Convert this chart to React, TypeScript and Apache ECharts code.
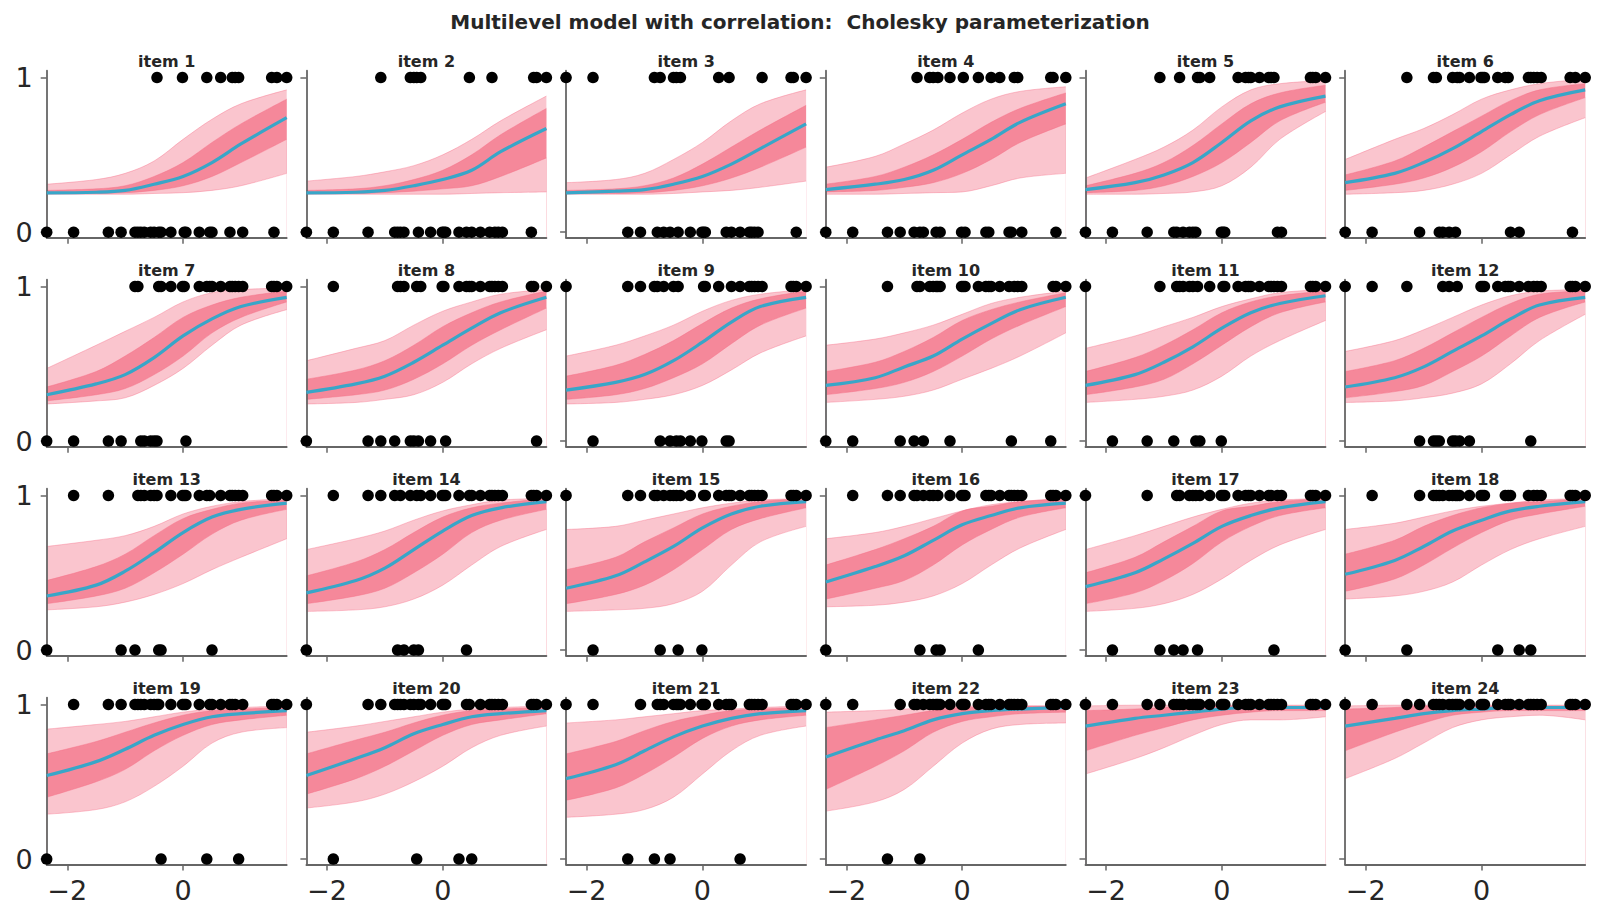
import React, { useEffect, useRef } from "react";
import * as echarts from "echarts";

const X_MIN = -2.355;
const X_MAX = 1.79;
const Y_MIN = -0.036;
const Y_MAX = 1.044;

// ability of each person (x of every dot, same in all panels)
const persons = [
  -2.355, -1.89, -1.29, -1.07, -0.83, -0.78, -0.73, -0.67, -0.56, -0.5, -0.45,
  -0.42, -0.38, -0.21, -0.01, 0.02, 0.05, 0.28, 0.41, 0.46, 0.5, 0.65, 0.81,
  0.85, 0.9, 0.96, 1.03, 1.53, 1.57, 1.62, 1.79,
];

// answers of each person per item, 1 = correct
const responses = [
  "0000000000100010001001011101011",
  "0001000011101000000100010000111",
  "1100101001101000010100000011101",
  "0000010011010101010011001101101",
  "0001001000011100011111111001111",
  "0010110001011111111100111111011",
  "0000110000011111011111111111111",
  "0100011100101011011111111111101",
  "1011110101010001110011111111111",
  "0010011011111011111111101110111",
  "1001011111010101111111111111111",
  "1110000110010011111111101111111",
  "0110011111100111111101111111111",
  "0111101010101111110111111111111",
  "1011110111101101111111111111111",
  "0111110111010111101111111111111",
  "1010011011101111111111110111111",
  "0101111111111111101110101111111",
  "0111111111110111110111111011111",
  "1011111111011111101101111111111",
  "1101011101111111111110111111111",
  "1101110111111111111111111111111",
  "1111111111111111111111111111111",
  "1111111111111111111111111111111",
];

const xGrid = [-2.355, -1.5, -1, -0.5, 0, 0.5, 1, 1.79];

// posterior mean curve per item
const meanCurve = [
  [0.254, 0.258, 0.27, 0.31, 0.36, 0.45, 0.57, 0.74],
  [0.254, 0.258, 0.27, 0.3, 0.34, 0.4, 0.52, 0.67],
  [0.254, 0.265, 0.275, 0.31, 0.36, 0.44, 0.54, 0.7],
  [0.275, 0.31, 0.34, 0.4, 0.5, 0.6, 0.71, 0.83],
  [0.275, 0.32, 0.37, 0.45, 0.58, 0.72, 0.81, 0.88],
  [0.32, 0.38, 0.45, 0.54, 0.65, 0.76, 0.85, 0.92],
  [0.3, 0.37, 0.43, 0.54, 0.68, 0.79, 0.87, 0.93],
  [0.315, 0.37, 0.42, 0.51, 0.62, 0.73, 0.83, 0.93],
  [0.33, 0.38, 0.43, 0.52, 0.64, 0.77, 0.87, 0.93],
  [0.36, 0.41, 0.48, 0.55, 0.66, 0.76, 0.85, 0.93],
  [0.36, 0.43, 0.51, 0.61, 0.73, 0.83, 0.89, 0.94],
  [0.35, 0.41, 0.48, 0.58, 0.68, 0.79, 0.88, 0.93],
  [0.35, 0.42, 0.51, 0.63, 0.76, 0.86, 0.91, 0.95],
  [0.37, 0.45, 0.53, 0.65, 0.77, 0.87, 0.92, 0.96],
  [0.4, 0.48, 0.57, 0.67, 0.79, 0.88, 0.93, 0.96],
  [0.44, 0.54, 0.61, 0.71, 0.81, 0.87, 0.92, 0.95],
  [0.41, 0.5, 0.59, 0.69, 0.8, 0.87, 0.92, 0.96],
  [0.49, 0.58, 0.67, 0.77, 0.84, 0.9, 0.93, 0.96],
  [0.54, 0.63, 0.71, 0.8, 0.87, 0.92, 0.94, 0.96],
  [0.54, 0.65, 0.72, 0.81, 0.87, 0.92, 0.94, 0.96],
  [0.52, 0.61, 0.7, 0.79, 0.86, 0.91, 0.94, 0.96],
  [0.66, 0.77, 0.83, 0.9, 0.94, 0.96, 0.97, 0.98],
  [0.86, 0.91, 0.93, 0.95, 0.97, 0.98, 0.98, 0.98],
  [0.86, 0.91, 0.94, 0.96, 0.97, 0.98, 0.98, 0.98],
];

// spread of the posterior draws: outer edges
const outerHi = [
  [0.31, 0.34, 0.38, 0.46, 0.6, 0.73, 0.83, 0.92],
  [0.33, 0.36, 0.39, 0.43, 0.5, 0.6, 0.72, 0.88],
  [0.32, 0.34, 0.38, 0.47, 0.58, 0.72, 0.83, 0.92],
  [0.42, 0.49, 0.57, 0.66, 0.77, 0.86, 0.91, 0.94],
  [0.35, 0.47, 0.55, 0.66, 0.81, 0.92, 0.96, 0.98],
  [0.47, 0.6, 0.67, 0.76, 0.86, 0.92, 0.96, 0.99],
  [0.47, 0.62, 0.71, 0.8, 0.9, 0.96, 0.98, 0.99],
  [0.52, 0.6, 0.65, 0.75, 0.84, 0.9, 0.95, 0.98],
  [0.55, 0.62, 0.68, 0.75, 0.84, 0.91, 0.95, 0.98],
  [0.62, 0.66, 0.7, 0.75, 0.82, 0.89, 0.93, 0.97],
  [0.6, 0.68, 0.74, 0.8, 0.87, 0.92, 0.96, 0.98],
  [0.58, 0.65, 0.72, 0.8, 0.88, 0.94, 0.97, 0.98],
  [0.67, 0.71, 0.74, 0.8, 0.88, 0.93, 0.96, 0.98],
  [0.65, 0.72, 0.77, 0.84, 0.9, 0.94, 0.97, 0.98],
  [0.78, 0.8, 0.84, 0.88, 0.92, 0.95, 0.97, 0.98],
  [0.72, 0.76, 0.8, 0.85, 0.9, 0.94, 0.96, 0.98],
  [0.65, 0.74, 0.8, 0.86, 0.91, 0.95, 0.97, 0.98],
  [0.78, 0.82, 0.86, 0.9, 0.93, 0.95, 0.97, 0.98],
  [0.84, 0.87, 0.89, 0.92, 0.95, 0.97, 0.98, 0.99],
  [0.82, 0.86, 0.89, 0.92, 0.95, 0.97, 0.98, 0.99],
  [0.88, 0.9, 0.92, 0.94, 0.96, 0.97, 0.98, 0.99],
  [0.95, 0.96, 0.97, 0.98, 0.99, 0.99, 0.99, 0.99],
  [0.99, 0.995, 0.995, 0.995, 0.995, 0.995, 0.995, 0.995],
  [0.99, 0.995, 0.995, 0.995, 0.995, 0.995, 0.995, 0.995],
];

const outerLo = [
  [0.245, 0.245, 0.245, 0.25, 0.255, 0.27, 0.3, 0.38],
  [0.245, 0.245, 0.245, 0.245, 0.245, 0.25, 0.255, 0.26],
  [0.245, 0.245, 0.245, 0.25, 0.26, 0.27, 0.29, 0.33],
  [0.245, 0.245, 0.25, 0.255, 0.26, 0.3, 0.35, 0.38],
  [0.245, 0.245, 0.25, 0.26, 0.3, 0.42, 0.6, 0.78],
  [0.245, 0.255, 0.27, 0.31, 0.38, 0.5, 0.62, 0.74],
  [0.24, 0.26, 0.28, 0.36, 0.47, 0.62, 0.75, 0.85],
  [0.24, 0.25, 0.27, 0.3, 0.38, 0.5, 0.6, 0.72],
  [0.24, 0.25, 0.27, 0.3, 0.36, 0.46, 0.57, 0.68],
  [0.25, 0.27, 0.29, 0.33, 0.4, 0.47, 0.55, 0.7],
  [0.25, 0.27, 0.29, 0.33, 0.42, 0.55, 0.65, 0.78],
  [0.25, 0.26, 0.28, 0.31, 0.37, 0.5, 0.65, 0.82],
  [0.26, 0.28, 0.31, 0.36, 0.43, 0.52, 0.6, 0.72],
  [0.25, 0.26, 0.28, 0.33, 0.42, 0.55, 0.67, 0.78],
  [0.25, 0.26, 0.27, 0.3, 0.38, 0.55, 0.7, 0.8],
  [0.28, 0.29, 0.31, 0.35, 0.43, 0.55, 0.66, 0.78],
  [0.25, 0.27, 0.3, 0.36, 0.46, 0.58, 0.68, 0.78],
  [0.33, 0.35, 0.38, 0.44, 0.55, 0.65, 0.72, 0.8],
  [0.29, 0.32, 0.37, 0.47, 0.6, 0.75, 0.82, 0.85],
  [0.33, 0.37, 0.42, 0.5, 0.6, 0.72, 0.8, 0.86],
  [0.27, 0.29, 0.32, 0.4, 0.55, 0.7, 0.8, 0.86],
  [0.31, 0.37, 0.45, 0.6, 0.75, 0.84, 0.87, 0.88],
  [0.55, 0.65, 0.72, 0.8, 0.87, 0.9, 0.9, 0.92],
  [0.52, 0.65, 0.75, 0.85, 0.9, 0.92, 0.93, 0.9],
];

// where most of the draws lie
const innerHi = [
  [0.27, 0.28, 0.3, 0.36, 0.45, 0.58, 0.7, 0.86],
  [0.27, 0.28, 0.3, 0.34, 0.4, 0.5, 0.63, 0.8],
  [0.27, 0.28, 0.3, 0.35, 0.44, 0.55, 0.66, 0.82],
  [0.31, 0.36, 0.42, 0.5, 0.6, 0.71, 0.8, 0.9],
  [0.3, 0.38, 0.45, 0.56, 0.7, 0.83, 0.9, 0.95],
  [0.37, 0.46, 0.55, 0.65, 0.75, 0.85, 0.92, 0.96],
  [0.35, 0.45, 0.55, 0.67, 0.8, 0.88, 0.93, 0.97],
  [0.4, 0.46, 0.52, 0.62, 0.74, 0.83, 0.9, 0.97],
  [0.42, 0.49, 0.56, 0.65, 0.76, 0.86, 0.92, 0.97],
  [0.45, 0.51, 0.58, 0.67, 0.78, 0.85, 0.9, 0.96],
  [0.45, 0.54, 0.62, 0.72, 0.83, 0.9, 0.94, 0.97],
  [0.45, 0.52, 0.6, 0.7, 0.8, 0.89, 0.95, 0.97],
  [0.45, 0.54, 0.62, 0.74, 0.85, 0.91, 0.95, 0.97],
  [0.48, 0.57, 0.65, 0.76, 0.86, 0.92, 0.95, 0.98],
  [0.52, 0.6, 0.7, 0.79, 0.88, 0.93, 0.96, 0.98],
  [0.55, 0.65, 0.72, 0.8, 0.9, 0.93, 0.96, 0.98],
  [0.5, 0.6, 0.7, 0.8, 0.9, 0.93, 0.96, 0.98],
  [0.62, 0.71, 0.8, 0.87, 0.92, 0.95, 0.96, 0.98],
  [0.68, 0.76, 0.82, 0.88, 0.93, 0.96, 0.97, 0.98],
  [0.68, 0.77, 0.82, 0.88, 0.93, 0.96, 0.97, 0.98],
  [0.68, 0.76, 0.83, 0.89, 0.93, 0.96, 0.97, 0.98],
  [0.85, 0.9, 0.93, 0.96, 0.98, 0.98, 0.99, 0.99],
  [0.96, 0.97, 0.98, 0.99, 0.99, 0.99, 0.99, 0.99],
  [0.97, 0.98, 0.99, 0.99, 0.99, 0.99, 0.99, 0.99],
];

const innerLo = [
  [0.25, 0.25, 0.255, 0.27, 0.3, 0.36, 0.45, 0.6],
  [0.25, 0.25, 0.255, 0.265, 0.28, 0.3, 0.36, 0.48],
  [0.25, 0.25, 0.255, 0.27, 0.3, 0.35, 0.42, 0.55],
  [0.26, 0.27, 0.29, 0.32, 0.38, 0.47, 0.58, 0.7],
  [0.255, 0.27, 0.3, 0.36, 0.45, 0.58, 0.72, 0.84],
  [0.27, 0.31, 0.35, 0.42, 0.52, 0.65, 0.76, 0.87],
  [0.26, 0.3, 0.34, 0.43, 0.55, 0.7, 0.8, 0.9],
  [0.27, 0.3, 0.33, 0.4, 0.5, 0.62, 0.72, 0.86],
  [0.27, 0.3, 0.34, 0.41, 0.5, 0.63, 0.75, 0.86],
  [0.3, 0.34, 0.38, 0.45, 0.55, 0.66, 0.75, 0.87],
  [0.3, 0.35, 0.4, 0.5, 0.62, 0.74, 0.83, 0.9],
  [0.28, 0.32, 0.36, 0.45, 0.55, 0.68, 0.8, 0.9],
  [0.3, 0.35, 0.4, 0.5, 0.62, 0.75, 0.84, 0.91],
  [0.3, 0.35, 0.4, 0.5, 0.62, 0.76, 0.84, 0.91],
  [0.3, 0.36, 0.42, 0.52, 0.65, 0.78, 0.85, 0.92],
  [0.33, 0.4, 0.45, 0.55, 0.68, 0.78, 0.86, 0.92],
  [0.3, 0.37, 0.45, 0.56, 0.7, 0.8, 0.87, 0.92],
  [0.38, 0.46, 0.55, 0.66, 0.76, 0.84, 0.88, 0.93],
  [0.4, 0.5, 0.58, 0.7, 0.8, 0.87, 0.9, 0.93],
  [0.42, 0.52, 0.6, 0.7, 0.8, 0.87, 0.9, 0.94],
  [0.38, 0.46, 0.55, 0.66, 0.78, 0.86, 0.9, 0.93],
  [0.45, 0.6, 0.7, 0.82, 0.89, 0.92, 0.94, 0.95],
  [0.7, 0.8, 0.85, 0.9, 0.93, 0.95, 0.96, 0.96],
  [0.7, 0.82, 0.88, 0.93, 0.95, 0.96, 0.96, 0.96],
];

const itemNames = responses.map((_, i) => `item ${i + 1}`);

const COLS = 6;
const COL_LEFT = 46.7;
const COL_STEP = 259.7;
const PANEL_W = 240;
const ROW_TOP = 70.7;
const ROW_STEP = 208.97;
const PANEL_H = 167;

const RED = "#f77189";
const BLUE = "#38a6c8";
const AXIS = "#666666";
const TEXT = "#262626";
const FONT = "DejaVu Sans";

const App: React.FC = () => {
  const chartRef = useRef<HTMLDivElement>(null);

  useEffect(() => {
    if (!chartRef.current) return;
    const chart = echarts.init(chartRef.current, undefined, { renderer: "svg" });

    const grids: any[] = [];
    const xAxes: any[] = [];
    const yAxes: any[] = [];
    const series: any[] = [];
    const graphics: any[] = [
      {
        type: "text",
        x: 800,
        y: 22,
        style: {
          text: "Multilevel model with correlation:  Cholesky parameterization",
          fill: TEXT,
          font: `bold 20px "${FONT}"`,
          align: "center",
          verticalAlign: "middle",
        },
      },
    ];

    const band = (k: number, arr: number[][], fill: string, lineOpacity: number) => ({
      type: "line",
      xAxisIndex: k,
      yAxisIndex: k,
      data: xGrid.map((x, j) => [x, arr[k][j]]),
      smooth: 0.35,
      symbol: "none",
      silent: true,
      z: 2,
      lineStyle: { color: RED, width: 0.8, opacity: lineOpacity },
      areaStyle: { color: fill, opacity: 1, origin: "start" },
    });

    responses.forEach((resp, k) => {
      const row = Math.floor(k / COLS);
      const col = k % COLS;
      const left = COL_LEFT + col * COL_STEP;
      const top = ROW_TOP + row * ROW_STEP;
      grids.push({ left, top, width: PANEL_W, height: PANEL_H });

      xAxes.push({
        gridIndex: k,
        type: "value",
        min: X_MIN,
        max: X_MAX,
        z: 3,
        axisLine: { show: true, onZero: false, lineStyle: { color: AXIS, width: 1.8 } },
        axisTick: { show: true, length: 6, customValues: [-2, 0], lineStyle: { color: AXIS, width: 1.5 } },
        axisLabel: {
          show: row === 3,
          customValues: [-2, 0],
          formatter: (v: number) => String(v).replace("-", "\u2212"),
          fontSize: 27,
          fontFamily: FONT,
          color: TEXT,
          margin: 12,
        },
        splitLine: { show: false },
      });
      yAxes.push({
        gridIndex: k,
        type: "value",
        min: Y_MIN,
        max: Y_MAX,
        z: 3,
        axisLine: { show: true, onZero: false, lineStyle: { color: AXIS, width: 1.8 } },
        axisTick: { show: true, length: 6, customValues: [0, 1], lineStyle: { color: AXIS, width: 1.5 } },
        axisLabel: {
          show: col === 0,
          customValues: [0, 1],
          fontSize: 27,
          fontFamily: FONT,
          color: TEXT,
          margin: 14,
        },
        splitLine: { show: false },
      });

      series.push(band(k, outerHi, "#fac5ce", 0.5));
      series.push(band(k, innerHi, "#f5889a", 0.6));
      series.push(band(k, innerLo, "#fac5ce", 0.6));
      series.push(band(k, outerLo, "#ffffff", 0.5));
      series.push({
        type: "line",
        xAxisIndex: k,
        yAxisIndex: k,
        data: xGrid.map((x, j) => [x, meanCurve[k][j]]),
        smooth: 0.35,
        symbol: "none",
        silent: true,
        z: 4,
        lineStyle: { color: BLUE, width: 3.2 },
      });
      series.push({
        type: "scatter",
        xAxisIndex: k,
        yAxisIndex: k,
        data: persons.map((x, i) => [x, Number(resp[i])]),
        symbolSize: 11.5,
        itemStyle: { color: "#000000", opacity: 1 },
        silent: true,
        clip: true,
        z: 5,
      });

      graphics.push({
        type: "text",
        x: left + PANEL_W / 2,
        y: top - 9.5,
        style: {
          text: itemNames[k],
          fill: TEXT,
          font: `bold 16px "${FONT}"`,
          align: "center",
          verticalAlign: "middle",
        },
      });
    });

    chart.setOption({
      animation: false,
      backgroundColor: "#ffffff",
      grid: grids,
      xAxis: xAxes,
      yAxis: yAxes,
      series,
      graphic: graphics,
    });

    return () => {
      chart.dispose();
    };
  }, []);

  return (
    <div
      ref={chartRef}
      style={{ position: "fixed", left: 0, top: 0, width: "1600px", height: "921px" }}
    />
  );
};

export default App;
